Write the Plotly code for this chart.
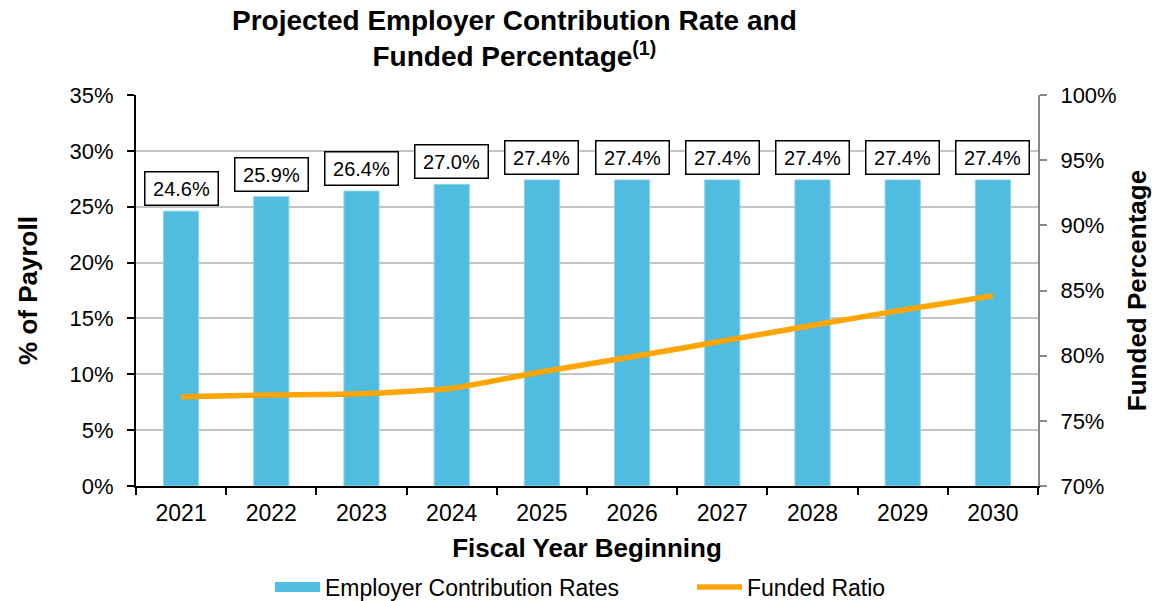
import plotly.graph_objects as go

years = ["2021", "2022", "2023", "2024", "2025", "2026", "2027", "2028", "2029", "2030"]
contribution_rates = [24.6, 25.9, 26.4, 27.0, 27.4, 27.4, 27.4, 27.4, 27.4, 27.4]
funded_ratio = [76.85, 76.98, 77.08, 77.5, 78.77, 79.92, 81.12, 82.33, 83.5, 84.6]

FONT = "Liberation Sans, Arial, sans-serif"
BAR_COLOR = "#50BDE0"
LINE_COLOR = "#FFA500"

fig = go.Figure()
fig.add_trace(go.Bar(
    x=years, y=contribution_rates, name="Employer Contribution Rates",
    marker=dict(color=BAR_COLOR, line=dict(color="#8FD3EA", width=1)),
    yaxis="y", showlegend=False,
))
# legend entry drawn as a wide swatch like the reference
fig.add_trace(go.Scatter(
    x=[None], y=[None], name="Employer Contribution Rates", mode="lines",
    line=dict(color=BAR_COLOR, width=12), yaxis="y",
))
fig.add_trace(go.Scatter(
    x=years, y=funded_ratio, name="Funded Ratio", mode="lines",
    line=dict(color=LINE_COLOR, width=5.5, shape="spline", smoothing=0.5),
    yaxis="y2",
))

for i, v in enumerate(contribution_rates):
    fig.add_annotation(
        x=i, y=v, xref="x", yref="y", yanchor="bottom", yshift=5,
        text=f"{v:.1f}%", showarrow=False,
        font=dict(family=FONT, size=20, color="black"),
        bordercolor="black", borderwidth=1.5, borderpad=4, bgcolor="white",
        width=64, height=24,
    )

fig.add_annotation(
    text="<b>Projected Employer Contribution Rate and<br>Funded Percentage<sup>(1)</sup></b>",
    xref="paper", yref="paper", x=(514 - 136) / 902, y=(486 - 39) / 391,
    xanchor="center", yanchor="middle", showarrow=False,
    font=dict(family=FONT, size=28, color="black"),
)

fig.update_layout(
    width=1156, height=601,
    margin=dict(l=136, r=118, t=95, b=115, autoexpand=False),
    paper_bgcolor="white", plot_bgcolor="white",
    font=dict(family=FONT, size=22, color="black"),
    bargap=0.61,
    xaxis=dict(
        type="category", range=[-0.5, 9.5], showline=True, linecolor="black", linewidth=2,
        ticks="outside", tickson="boundaries", ticklen=7, tickwidth=2, tickcolor="black",
        tickfont=dict(size=23), tickangle=0, ticklabelstandoff=5,
        title=dict(text="<b>Fiscal Year Beginning</b>", font=dict(size=26), standoff=14),
    ),
    yaxis=dict(
        range=[0, 35], dtick=5, ticksuffix="%",
        showline=True, linecolor="black", linewidth=2,
        ticks="outside", ticklen=7, tickwidth=2, tickcolor="black",
        showgrid=True, gridcolor="#C4C4C4", gridwidth=2,
        zeroline=False, tickfont=dict(size=22), ticklabelstandoff=9,
        title=dict(text="<b>% of Payroll</b>", font=dict(size=26), standoff=24),
    ),
    yaxis2=dict(
        range=[70, 100], dtick=5, ticksuffix="%", overlaying="y", side="right",
        showline=True, linecolor="#888888", linewidth=2,
        ticks="outside", ticklen=7, tickwidth=2, tickcolor="#888888",
        showgrid=False, zeroline=False, tickfont=dict(size=22), ticklabelstandoff=9,
        title=dict(text="<b>Funded Percentage</b>", font=dict(size=26), standoff=12),
    ),
    legend=dict(
        orientation="h", x=(270 - 136) / 902, xanchor="left",
        y=(486 - 587) / 391, yanchor="middle", font=dict(size=23),
        entrywidth=362, itemwidth=45, traceorder="normal",
    ),
    showlegend=True,
)

fig.write_html("out.html")
